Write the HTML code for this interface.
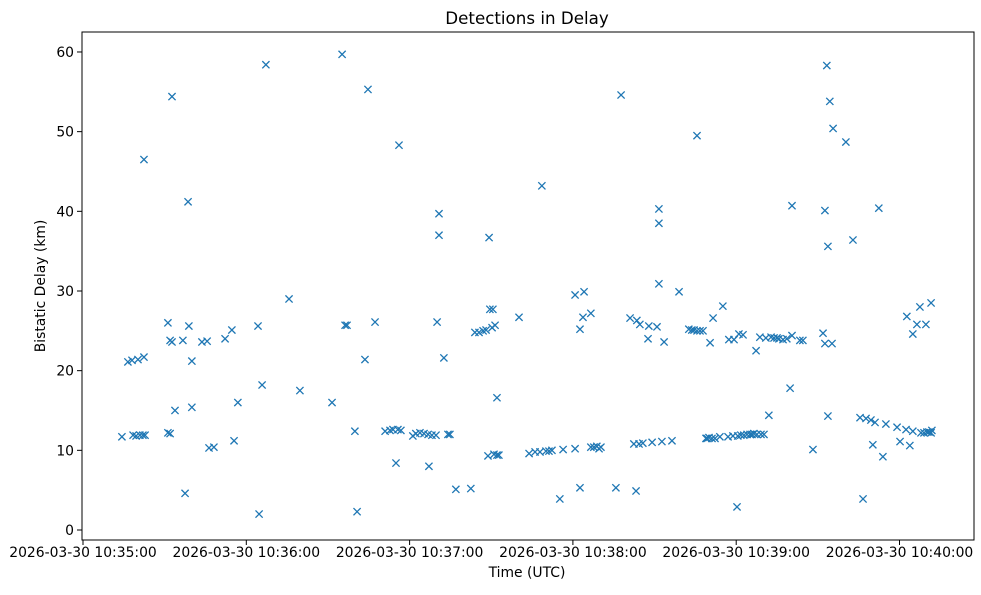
<!DOCTYPE html>
<html><head><meta charset="utf-8"><style>
body{margin:0;background:#fff}
svg text{font-family:"DejaVu Sans","Liberation Sans",sans-serif;fill:#000}
</style></head><body>
<svg id="chart" width="981" height="590" xmlns="http://www.w3.org/2000/svg">
<rect width="981" height="590" fill="#fff"/>
<text x="527" y="24" font-size="16.7" text-anchor="middle">Detections in Delay</text>
<text x="527" y="577" font-size="13.9" text-anchor="middle">Time (UTC)</text>
<text transform="translate(45,286) rotate(-90)" font-size="13.9" text-anchor="middle">Bistatic Delay (km)</text>
<g id="ticks"></g>
<g id="marks"></g>
<rect x="82" y="32" width="892" height="508" fill="none" stroke="#000" stroke-width="1"/>
</svg>
<script>
const xTickSeconds=[0,60,120,180,240,300];
const xTickLabels=["2026-03-30 10:35:00","2026-03-30 10:36:00","2026-03-30 10:37:00","2026-03-30 10:38:00","2026-03-30 10:39:00","2026-03-30 10:40:00"];
const yTickValues=[0,10,20,30,40,50,60];
const timesSec=[14.3,16.5,18.0,18.4,19.5,20.2,20.9,22.0,22.4,22.4,22.8,
31.2,31.2,32.0,32.0,32.7,32.7,33.8,36.7,37.5,38.6,38.9,40.0,40.0,43.7,45.6,46.3,48.1,52.2,54.7,55.5,56.9,64.3,64.7,65.8,67.2,75.7,79.7,91.5,95.2,96.3,97.0,99.9,100.7,103.6,104.7,107.3,111.0,112.8,113.9,115.0,115.7,116.1,116.8,
121.2,122.3,123.8,125.3,126.8,127.1,128.2,129.7,130.1,130.8,130.8,132.6,134.1,134.8,137.0,142.5,144.0,145.5,147.0,148.1,148.8,149.2,149.5,150.3,150.6,151.0,151.4,152.1,152.1,152.8,
160.2,163.9,166.1,167.9,168.6,170.1,171.2,172.3,175.2,176.4,180.8,180.8,182.6,182.6,183.7,184.1,186.6,186.6,187.7,188.8,189.6,190.3,195.8,197.7,
201.0,202.4,203.2,203.5,204.3,204.6,205.7,207.6,207.9,209.1,210.9,211.6,211.6,211.6,212.7,213.5,216.4,219.0,222.6,223.7,224.5,225.6,225.6,226.7,227.8,228.9,229.3,230.0,230.4,231.1,231.5,232.2,234.0,235.1,237.0,237.3,238.8,239.2,240.3,240.6,241.0,241.7,242.5,242.8,244.0,245.1,245.8,246.5,247.3,247.6,248.7,249.1,250.2,250.9,252.0,252.8,253.9,255.0,255.7,257.2,258.6,259.8,260.5,260.5,263.4,264.5,268.2,
271.9,272.6,272.6,273.3,273.7,273.7,274.4,275.2,275.6,280.3,282.9,285.5,286.6,287.7,289.5,290.2,291.0,292.4,293.9,295.0,299.1,300.2,302.4,302.7,303.8,304.9,304.9,306.4,307.5,307.9,309.0,309.7,310.1,310.8,311.6,311.6,311.9];
const delayKm=[11.7,21.1,21.3,11.9,11.8,21.4,11.9,11.9,46.5,21.7,11.9,
26.0,12.2,12.1,23.8,54.4,23.6,15.0,23.8,4.6,41.2,25.6,21.2,15.4,23.6,23.7,10.3,10.4,24.0,25.1,11.2,16.0,25.6,2.0,18.2,58.4,29.0,17.5,16.0,59.7,25.7,25.7,12.4,2.3,21.4,55.3,26.1,12.4,12.5,12.6,8.4,12.6,48.3,12.5,
11.8,12.1,12.2,12.1,12.0,8.0,11.9,11.9,26.1,39.7,37.0,21.6,12.0,12.0,5.1,5.2,24.8,24.8,25.0,25.1,9.3,36.7,27.7,25.4,27.7,9.5,25.7,16.6,9.4,9.4,
26.7,9.6,9.8,9.8,43.2,9.9,9.9,10.0,3.9,10.1,10.2,29.5,25.2,5.3,26.7,29.9,27.2,10.4,10.4,10.5,10.2,10.4,5.3,54.6,
26.6,10.8,4.9,26.3,10.8,25.8,10.9,24.0,25.6,11.0,25.5,40.3,38.5,30.9,11.1,23.6,11.2,29.9,25.2,25.1,25.1,49.5,25.0,25.0,25.0,11.5,11.5,11.6,23.5,11.5,26.6,11.5,11.7,28.1,11.7,23.9,11.8,23.9,2.9,11.8,24.6,11.9,24.5,11.9,12.0,12.0,12.0,12.1,22.5,12.0,24.2,12.0,12.0,24.1,14.4,24.2,24.1,24.1,24.0,23.9,24.0,17.8,40.7,24.4,23.8,23.8,10.1,
24.7,40.1,23.4,58.3,35.6,14.3,53.8,23.4,50.4,48.7,36.4,14.1,3.9,14.0,13.8,10.7,13.5,40.4,9.2,13.3,12.9,11.1,12.6,26.8,10.6,24.6,12.4,25.8,28.0,12.2,12.2,25.8,12.3,12.3,28.5,12.2,12.5];

const NS="http://www.w3.org/2000/svg";
function xScale(s){return 83+s*(163.3/60);}
function yScale(v){return 530-v*7.967;}
const tg=document.getElementById('ticks');
xTickSeconds.forEach((s,i)=>{
  const x=xScale(s);
  const l=document.createElementNS(NS,'line');
  l.setAttribute('x1',x);l.setAttribute('x2',x);l.setAttribute('y1',540);l.setAttribute('y2',545);l.setAttribute('stroke','#000');
  
  
  tg.appendChild(l);
  const t=document.createElementNS(NS,'text');
  t.setAttribute('x',x);t.setAttribute('y',557);t.setAttribute('font-size','13.9');t.setAttribute('text-anchor','middle');
  t.textContent=xTickLabels[i];
  
  
  tg.appendChild(t);
});
yTickValues.forEach(v=>{
  const y=yScale(v);
  const l=document.createElementNS(NS,'line');
  l.setAttribute('x1',77);l.setAttribute('x2',82);l.setAttribute('y1',y);l.setAttribute('y2',y);l.setAttribute('stroke','#000');
  
  
  tg.appendChild(l);
  const t=document.createElementNS(NS,'text');
  t.setAttribute('x',74);t.setAttribute('y',y+5);t.setAttribute('font-size','13.9');t.setAttribute('text-anchor','end');
  t.textContent=v;
  
  
  tg.appendChild(t);
});
const mg=document.getElementById('marks');
timesSec.forEach((s,i)=>{
  const x=xScale(s),y=yScale(delayKm[i]),r=3.6;
  const p=document.createElementNS(NS,'path');
  p.setAttribute('d',`M${x-r},${y-r}L${x+r},${y+r}M${x-r},${y+r}L${x+r},${y-r}`);
  p.setAttribute('stroke','#1f77b4');p.setAttribute('stroke-width','1.3');p.setAttribute('fill','none');
  
  
  mg.appendChild(p);
});
</script>
</body></html>
